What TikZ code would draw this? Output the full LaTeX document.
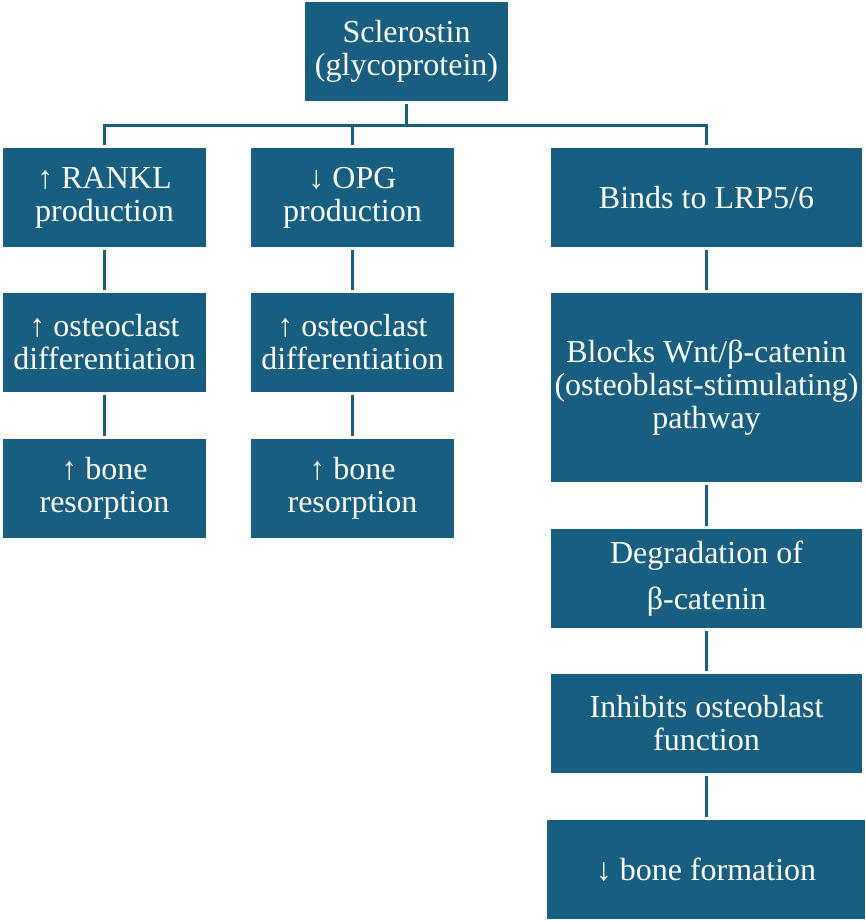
\documentclass[tikz,border=0pt]{standalone}
\usepackage{fontspec}
\setmainfont{Liberation Serif}
\definecolor{boxblue}{RGB}{23,94,128}
\tikzset{
    box/.style={fill=boxblue, text=white, align=center, inner sep=0pt,
        minimum width=152.25pt, minimum height=74.25pt,
        font=\fontsize{24}{24.75}\selectfont},
    widebox/.style={box, minimum width=233.25pt},
    link/.style={draw=boxblue, line width=2.25pt, shorten <=2pt, shorten >=2pt}
}
\begin{document}
\begin{tikzpicture}[x=0.75pt, y=-0.75pt]
    \useasboundingbox (0,0) rectangle (866,921);

    \def\xl{104.5};
    \def\xm{352.5};
    \def\xr{706.5};

    \node[box] (scl) at (406.5, 51.5) {Sclerostin\\(glycoprotein)};

    \node[box] (rankl) at (\xl, 197.5) {↑ RANKL\\production};
    \node[box] (ocla) at (\xl, 342.5) {↑ osteoclast\\differentiation};
    \node[box] (resa) at (\xl, 488.5) {↑ bone\\resorption};

    \node[box] (opg) at (\xm, 197.5) {↓ OPG\\production};
    \node[box] (oclb) at (\xm, 342.5) {↑ osteoclast\\differentiation};
    \node[box] (resb) at (\xm, 488.5) {↑ bone\\resorption};

    \node[widebox] (lrp) at (\xr, 197.5) {Binds to LRP5/6};
    \node[widebox, minimum height=141.75pt] (wnt) at (\xr, 387.5) {Blocks Wnt/β-catenin\\(osteoblast-stimulating)\\pathway};
    \node[widebox] (degr) at (\xr, 578.5) {Degradation of\\[9.75pt]β-catenin};
    \node[widebox] (inhib) at (\xr, 723.5) {Inhibits osteoblast\\function};
    \node[widebox, minimum width=238.5pt] (form) at (706, 869.5) {↓ bone formation};

    % tree from the top box
    \coordinate (fork) at (406.5, 125);
    \draw[link, shorten >=0pt] (scl) -- (scl |- fork);
    \draw[link] (rankl) -- (rankl |- fork) -- (lrp |- fork) -- (lrp);
    \draw[link, shorten <=0pt] (opg |- fork) -- (opg);

    % chains below
    \draw[link] (rankl) -- (ocla);
    \draw[link] (ocla) -- (resa);
    \draw[link] (opg) -- (oclb);
    \draw[link] (oclb) -- (resb);
    \draw[link] (lrp) -- (wnt);
    \draw[link] (wnt) -- (degr);
    \draw[link] (degr) -- (inhib);
    \draw[link] (inhib) -- (inhib |- form.north);

\end{tikzpicture}
\end{document}
